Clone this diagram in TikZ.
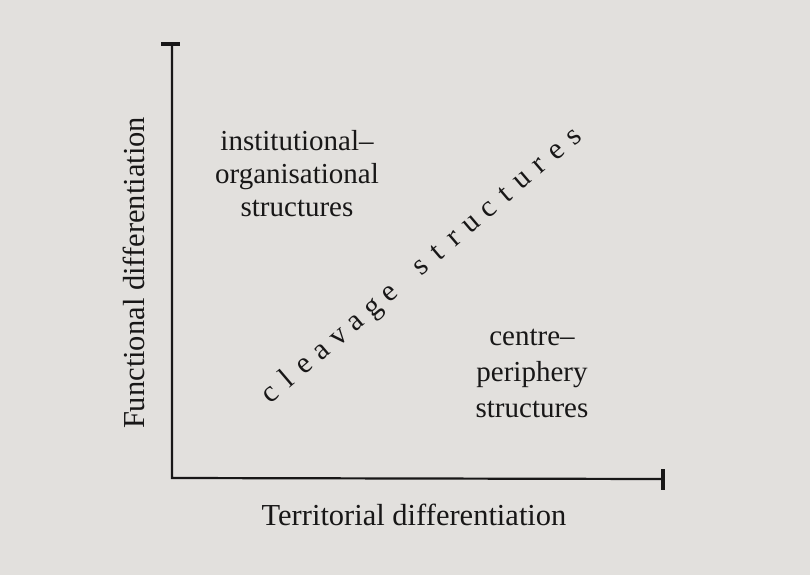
\documentclass[tikz,border=0pt]{standalone}
\usepackage{fontspec}
\setmainfont{Liberation Serif}
\definecolor{paper}{RGB}{226,224,221}
\definecolor{ink}{RGB}{24,23,23}
\begin{document}
\begin{tikzpicture}[x=1pt,y=-1pt,
  every node/.style={inner sep=0pt, text=ink},
  lbl/.style={font=\fontsize{29}{33}\selectfont, anchor=base},
  axislbl/.style={font=\fontsize{30.5}{35}\selectfont, anchor=base},
  axis/.style={draw=ink, line width=2.2pt},
  tickmark/.style={draw=ink, line width=4.5pt},
  clv/.style={font=\fontsize{30}{32}\selectfont, anchor=base, rotate=40.5}]
\fill[paper] (0,0) rectangle (810,575);
\useasboundingbox (0,0) rectangle (810,575);
% axes
\coordinate (top) at (172,44);
\coordinate (org) at (172,478);
\coordinate (rgt) at (663,479);
\coordinate (tl) at (161,44);
\coordinate (tr) at (180,44);
\coordinate (rt) at (663,469);
\coordinate (rb) at (663,490);
\draw[axis] (top) -- (org) -- (rgt);
\draw[tickmark] (tl) -- (tr);
\draw[tickmark] (rt) -- (rb);
% axis labels
\node[axislbl, rotate=90] (fd) at (144,273) {Functional differentiation};
\node[axislbl] (td) at (414,525) {Territorial differentiation};
% upper block
\node[lbl] (ia) at (297,150) {institutional–};
\node[lbl] (ib) at (297,183) {organisational};
\node[lbl] (ic) at (297,216) {structures};
% lower block
\node[lbl] (ca) at (532,345) {centre–};
\node[lbl] (cb) at (532,381) {periphery};
\node[lbl] (cc) at (532,417) {structures};
% diagonal
\foreach \ch/\i in {c/0,l/1,e/2,a/3,v/4,a/5,g/6,e/7,s/8.8,t/9.8,r/10.8,u/11.8,c/12.8,t/13.8,u/14.8,r/15.8,e/16.8,s/17.8} {
  \node[clv] at ({276+17*\i},{400.6-14.5*\i}) {\ch};
}
\end{tikzpicture}
\end{document}
